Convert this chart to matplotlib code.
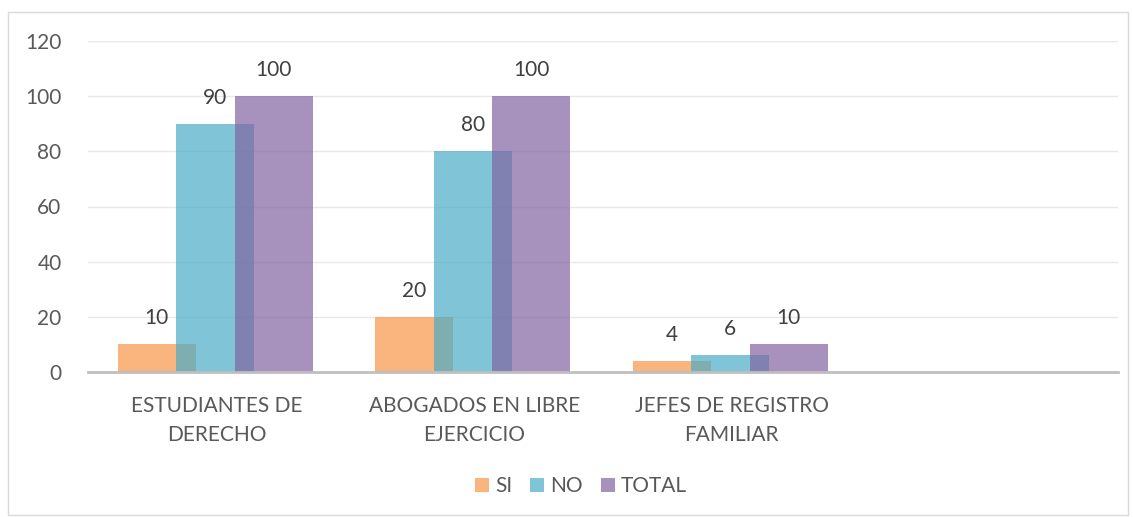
import matplotlib
matplotlib.use('Agg')
import matplotlib.pyplot as plt
from matplotlib.patches import Rectangle
import numpy as np

categories = ['ESTUDIANTES DE\nDERECHO', 'ABOGADOS EN LIBRE\nEJERCICIO', 'JEFES DE REGISTRO\nFAMILIAR', '']
si = [10, 20, 4]
no = [90, 80, 6]
total = [100, 100, 10]
series = [('SI', si, '#F79646'), ('NO', no, '#4BACC6'), ('TOTAL', total, '#8064A2')]
y_ticks = [0, 20, 40, 60, 80, 100, 120]

plt.rcParams['font.family'] = ['Lato', 'DejaVu Sans']
TXT = '#595959'
FS = 15

fig = plt.figure(figsize=(11.33, 5.17), dpi=100)
ax = fig.add_axes([88 / 1133, 1 - 372 / 517, 1030 / 1133, 331 / 517])
fig.patches.append(Rectangle((8 / 1133, 2 / 517), 1120 / 1133, 503 / 517, transform=fig.transFigure,
                             fill=False, edgecolor='#D9D9D9', linewidth=1))

x = np.arange(len(si))
width = 0.303
step = 0.227
for i, (name, vals, col) in enumerate(series):
    pos = x + (i - 1) * step - 0.006
    ax.bar(pos, vals, width, color=col, alpha=0.7, label=name, zorder=2)
    for p, v in zip(pos, vals):
        ax.text(p, v + 9.5, str(v), ha='center', va='center', fontsize=FS, color='#404040')

ax.set_xlim(-0.5, 3.5)
ax.set_ylim(0, 120)
ax.set_yticks(y_ticks)
ax.set_xticks(np.arange(len(categories)))
ax.set_xticklabels(categories, fontsize=FS, color=TXT, linespacing=1.6)
ax.tick_params(axis='y', length=0, pad=19, labelsize=FS, labelcolor=TXT)
ax.tick_params(axis='x', length=0, pad=17)
ax.grid(axis='y', color='#E8E8E8', linewidth=1, zorder=0)
for s in ['left', 'right', 'top']:
    ax.spines[s].set_visible(False)
ax.spines['bottom'].set_color('#BFBFBF')
ax.spines['bottom'].set_linewidth(2)
ax.spines['bottom'].set_zorder(3)

fig.legend(loc='center', bbox_to_anchor=(581 / 1133, 1 - 486 / 517), ncol=3, frameon=False,
           fontsize=FS, labelcolor=TXT, handlelength=0.67, handleheight=0.67, columnspacing=0.86,
           handletextpad=0.3)

fig.savefig('out.png', dpi=100)
